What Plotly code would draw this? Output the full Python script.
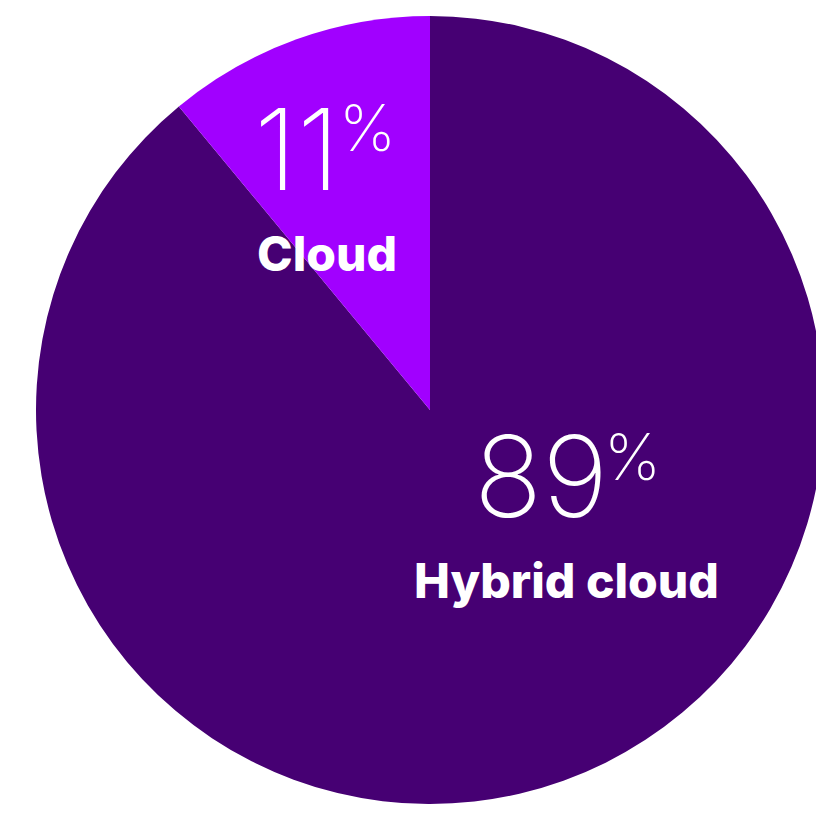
import plotly.graph_objects as go

labels = ["Hybrid cloud", "Cloud"]
values = [89, 11]
colors = ["#460073", "#A100FF"]
pct_text = ["89", "11"]

OFF = 8  # default page body margin
W, H = 816, 805
ML, MR, MT, MB = 28, 0, 8, 9
PW, PH = W - ML - MR, H - MT - MB


def px(x):
    return (x - OFF - ML) / PW


def py(y):
    return (H + OFF - MB - y) / PH


fig = go.Figure(
    go.Pie(
        labels=labels,
        values=values,
        marker=dict(colors=colors, line=dict(width=0)),
        sort=False,
        direction="clockwise",
        rotation=0,
        textinfo="none",
        hoverinfo="label+percent",
        showlegend=False,
    )
)

light = dict(family="Inter", color="white", weight=200)
bold = dict(family="Inter", color="white", weight=800)

ann = [
    # Cloud
    dict(text=pct_text[1], x=px(297), y=py(149), font=dict(size=113, **light)),
    dict(text="%", x=px(367), y=py(128), font=dict(size=64, **light)),
    dict(text=labels[1], x=px(327), y=py(253), font=dict(size=48, **bold)),
    # Hybrid
    dict(text=pct_text[0], x=px(541), y=py(476), font=dict(size=113, **light)),
    dict(text="%", x=px(632), y=py(456), font=dict(size=64, **light)),
    dict(text=labels[0], x=px(566), y=py(580), font=dict(size=48, **bold)),
]
for a in ann:
    a.update(xref="paper", yref="paper", xanchor="center", yanchor="middle",
             showarrow=False)

fig.update_layout(
    width=W,
    height=H,
    margin=dict(l=ML, r=MR, t=MT, b=MB),
    paper_bgcolor="white",
    plot_bgcolor="white",
    annotations=ann,
)

fig.write_html("out.html")
